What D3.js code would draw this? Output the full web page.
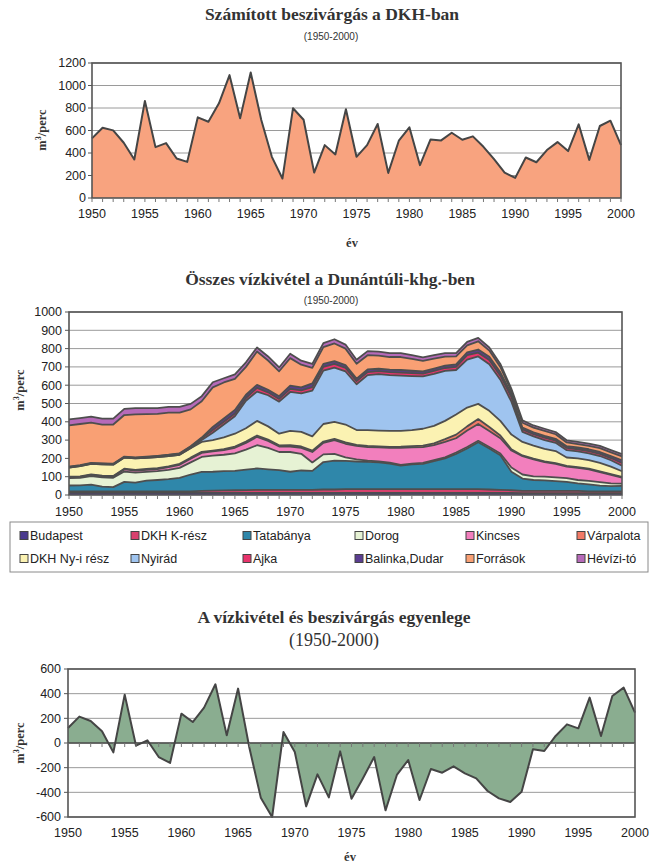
<!DOCTYPE html>
<html><head><meta charset="utf-8">
<script src="https://cdn.jsdelivr.net/npm/d3@7/dist/d3.min.js"></script>
<style>body{margin:0;background:#fff;} svg{display:block}</style>
</head><body>
<svg id="c" width="650" height="866"></svg>
<script>
// ---------- DATA ----------
const years = [1950,1951,1952,1953,1954,1955,1956,1957,1958,1959,1960,1961,1962,1963,1964,1965,1966,1967,1968,1969,1970,1971,1972,1973,1974,1975,1976,1977,1978,1979,1980,1981,1982,1983,1984,1985,1986,1987,1988,1989,1990,1991,1992,1993,1994,1995,1996,1997,1998,1999,2000];
const xTickLabels = [1950,1955,1960,1965,1970,1975,1980,1985,1990,1995,2000];
const yTicksInfil = [0,200,400,600,800,1000,1200];
const yTicksWithdraw = [0,100,200,300,400,500,600,700,800,900,1000];
const yTicksBalance = [-600,-400,-200,0,200,400,600];

// Chart 1: Számított beszivárgás (m3/perc)
const infiltration = [530,625,601,491,342,863,452,488,351,321,717,678,842,1092,708,1116,693,366,173,798,696,226,470,387,789,366,470,658,223,509,628,292,521,512,580,518,548,455,345,226,179,360,318,426,497,417,655,339,640,687,470];

// Chart 2: Összes vízkivétel – series (bottom to top)
const seriesNames = ["Budapest","DKH K-rész","Tatabánya","Dorog","Kincses","Várpalota","DKH Ny-i rész","Nyirád","Ajka","Balinka,Dudar","Források","Hévízi-tó"];
const seriesColors = ["#4a3a8e","#d8416e","#2f87aa","#e6f2d4","#f27fbd","#f27a66","#fbf2b2","#9fc4ef","#e8346c","#5b3d91","#f9a074","#b66ab9"];
const budapest = [12,12,12,12,12,12,12,12,12,12,12,12,12,12,12,12,12,12,12,12,12,12,12,12,12,12,12,12,12,12,12,12,12,12,12,12,12,12,12,12,12,10,10,10,10,10,10,10,10,10,10];
const dkhK = [8,8,8,8,8,8,8,8,8,8,8,8,10,12,13,14,15,16,16,16,16,16,16,18,18,20,20,20,20,20,20,20,20,20,20,20,20,20,18,16,14,12,12,12,12,12,12,10,10,10,10];
const tatabanya = [32,33,37,26,23,52,48,58,62,67,74,92,104,103,105,106,112,117,112,108,99,106,104,150,158,154,151,149,146,140,128,135,138,153,168,193,222,256,224,189,101,68,60,58,54,50,41,38,31,28,30];
const dorog = [40,41,46,50,51,56,54,48,48,50,54,66,82,88,90,96,109,127,118,99,108,91,46,42,37,20,12,7,5,5,4,4,5,5,6,7,8,8,8,10,23,22,20,20,20,20,19,19,19,16,12];
const kincses = [5,5,7,7,7,12,11,11,12,15,17,20,22,23,25,30,37,46,38,30,30,33,57,63,75,74,73,74,77,81,94,89,87,82,84,78,90,92,88,83,93,100,93,80,74,63,66,63,55,46,33];
const varpalota = [3,3,3,3,3,4,4,5,5,5,5,6,6,5,5,6,7,7,7,6,7,7,7,7,7,7,6,6,5,5,6,7,8,10,15,20,23,27,22,15,7,4,4,4,4,4,4,4,4,4,4];
const dkhNy = [50,56,57,62,62,61,63,61,60,55,50,51,54,57,65,71,73,80,72,64,78,80,78,96,93,98,81,87,87,87,86,88,92,96,100,110,103,83,88,80,80,74,71,68,66,46,48,46,46,41,31];
const nyirad = [0,0,0,0,0,0,0,0,0,0,0,2,10,40,70,95,150,160,170,175,213,210,250,292,296,290,250,300,308,305,302,295,286,284,273,243,262,259,255,225,180,55,50,48,45,40,38,38,38,35,30];
const ajka = [3,3,3,3,3,3,3,4,5,6,6,7,10,15,15,15,15,20,16,15,17,17,20,20,20,20,17,17,17,17,17,16,15,16,16,17,24,21,23,22,25,13,12,13,12,12,12,12,12,12,15];
const balinka = [2,2,2,2,2,2,2,2,2,2,2,3,4,17,18,20,18,17,14,15,18,16,20,16,16,15,14,14,13,13,14,13,13,13,13,14,16,17,18,18,17,10,10,10,10,10,10,10,10,10,15];
const forrasok = [225,225,220,212,214,227,236,233,229,230,222,201,198,216,197,170,152,182,160,136,150,124,85,92,96,90,81,78,72,69,71,65,57,54,49,43,38,45,33,30,15,27,26,27,25,20,18,19,21,21,21];
const heviz = [33,32,33,32,32,34,34,33,32,32,32,30,28,28,23,24,25,22,22,21,24,22,21,22,23,22,22,22,21,21,21,20,19,19,19,18,19,19,17,16,13,13,12,12,12,12,12,12,12,12,12];

// Chart 3: A vízkivétel és beszivárgás egyenlege
const balance = [122,214,178,95,-76,392,-22,22,-114,-162,238,170,287,476,62,441,-41,-443,-600,89,-73,-514,-254,-441,-68,-452,-287,-114,-546,-259,-138,-462,-211,-241,-189,-246,-287,-389,-449,-478,-395,-51,-65,57,151,119,368,57,381,449,246];

// ---------- DRAW ----------
const svg = d3.select("#c");
const SERIF = "'Liberation Serif','Times New Roman',serif";
const SANS = "'Liberation Sans',Arial,sans-serif";
const LINE = "#454545", GRID = "#9a9a9a", BORDER = "#555";

function frame(x0, x1, y0, y1, yScale, ticks, xScale, zeroY) {
  const g = svg.append("g");
  // gridlines
  g.selectAll(".grid").data(ticks).join("line")
    .attr("x1", x0).attr("x2", x1)
    .attr("y1", d => yScale(d)).attr("y2", d => yScale(d))
    .attr("stroke", GRID).attr("stroke-width", 1);
  return g;
}
function axes(x0, x1, y0, y1, yScale, ticks, xScale, tickBaseY, labelY, yLabelRight) {
  const g = svg.append("g");
  g.append("rect").attr("x", x0).attr("y", y0).attr("width", x1 - x0).attr("height", y1 - y0)
    .attr("fill", "none").attr("stroke", BORDER).attr("stroke-width", 1.6);
  // y ticks + labels
  g.selectAll(".yt").data(ticks).join("line")
    .attr("x1", x0 - 4).attr("x2", x0).attr("y1", d => yScale(d)).attr("y2", d => yScale(d))
    .attr("stroke", BORDER).attr("stroke-width", 1);
  g.selectAll(".yl").data(ticks).join("text")
    .attr("x", yLabelRight).attr("y", d => yScale(d)).attr("dy", "0.35em")
    .attr("text-anchor", "end").attr("font-family", SANS).attr("font-size", 12.5).attr("fill", "#222")
    .text(d => d);
  // x ticks (each year)
  g.selectAll(".xt").data(years).join("line")
    .attr("x1", d => xScale(d)).attr("x2", d => xScale(d))
    .attr("y1", tickBaseY).attr("y2", tickBaseY + 4)
    .attr("stroke", "#777").attr("stroke-width", 1);
  g.selectAll(".xl").data(xTickLabels).join("text")
    .attr("x", d => xScale(d)).attr("y", labelY).attr("dy", "0.35em")
    .attr("text-anchor", "middle").attr("font-family", SANS).attr("font-size", 12.5).attr("fill", "#222")
    .text(d => d);
}
function yTitle(x, y) {
  const t = svg.append("text").attr("transform", `translate(${x},${y}) rotate(-90)`)
    .attr("text-anchor", "middle").attr("font-family", SERIF).attr("font-weight", "bold")
    .attr("font-size", 12.5).attr("fill", "#333");
  t.append("tspan").text("m");
  t.append("tspan").attr("dy", -5).attr("font-size", 8).text("3");
  t.append("tspan").attr("dy", 5).text("/perc");
}
function title(text, x, y, size, bold, family) {
  svg.append("text").attr("x", x).attr("y", y).attr("text-anchor", "middle")
    .attr("font-family", family).attr("font-weight", bold ? "bold" : "normal")
    .attr("font-size", size).attr("fill", "#333").text(text);
}

// ===== Chart 1 =====
{
  const x0 = 92, x1 = 621, y0 = 63, y1 = 198;
  const x = d3.scaleLinear().domain([1950, 2000]).range([x0, x1]);
  const y = d3.scaleLinear().domain([0, 1200]).range([y1, y0]);
  title("Számított beszivárgás a DKH-ban", 332, 20, 17.5, true, SERIF);
  title("(1950-2000)", 331, 40, 10, false, SANS);
  frame(x0, x1, y0, y1, y, yTicksInfil.slice(1), x);
  const area = d3.area().x((d, i) => x(years[i])).y0(y(0)).y1(d => y(d));
  svg.append("path").datum(infiltration).attr("d", area).attr("fill", "#f8a37f");
  svg.append("path").datum(infiltration)
    .attr("d", d3.line().x((d, i) => x(years[i])).y(d => y(d)))
    .attr("fill", "none").attr("stroke", LINE).attr("stroke-width", 2).attr("stroke-linejoin", "round");
  axes(x0, x1, y0, y1, y, yTicksInfil, x, y1, 214, 86);
  yTitle(46, 130);
  title("év", 352, 247, 12.5, true, SERIF);
}

// ===== Chart 2 =====
{
  const x0 = 69, x1 = 622, y0 = 312, y1 = 495;
  const x = d3.scaleLinear().domain([1950, 2000]).range([x0, x1]);
  const y = d3.scaleLinear().domain([0, 1000]).range([y1, y0]);
  title("Összes vízkivétel a Dunántúli-khg.-ben", 330, 285, 17.5, true, SERIF);
  title("(1950-2000)", 331, 304, 10, false, SANS);
  frame(x0, x1, y0, y1, y, yTicksWithdraw.slice(1), x);
  const seriesArrays = [budapest, dkhK, tatabanya, dorog, kincses, varpalota, dkhNy, nyirad, ajka, balinka, forrasok, heviz];
  const table = years.map((yr, i) => {
    const o = { year: yr };
    seriesNames.forEach((n, k) => o[n] = seriesArrays[k][i]);
    return o;
  });
  const stacked = d3.stack().keys(seriesNames)(table);
  const area = d3.area().x(d => x(d.data.year)).y0(d => y(d[0])).y1(d => y(d[1]));
  svg.append("g").selectAll("path").data(stacked).join("path")
    .attr("d", area).attr("fill", (d, i) => seriesColors[i]);
  svg.append("g").selectAll("path").data(stacked).join("path")
    .attr("d", d3.line().x(d => x(d.data.year)).y(d => y(d[1])))
    .attr("fill", "none").attr("stroke", "#4e4e4e").attr("stroke-width", 1.8).attr("stroke-linejoin", "round");
  axes(x0, x1, y0, y1, y, yTicksWithdraw, x, y1, 512, 62);
  yTitle(24, 390);

  // legend
  const lg = svg.append("g");
  lg.append("rect").attr("x", 10).attr("y", 522).attr("width", 638).attr("height", 50)
    .attr("fill", "#fff").attr("stroke", "#8a8a8a").attr("stroke-width", 1);
  const colX = [20, 131, 243, 355, 466, 577];
  seriesNames.forEach((n, i) => {
    const cx = colX[i % 6], cy = i < 6 ? 536 : 559;
    lg.append("rect").attr("x", cx).attr("y", cy - 4.5).attr("width", 8).attr("height", 8)
      .attr("fill", seriesColors[i]).attr("stroke", "#444").attr("stroke-width", 1);
    lg.append("text").attr("x", cx + 10).attr("y", cy).attr("dy", "0.35em")
      .attr("font-family", SANS).attr("font-size", 12.5).attr("fill", "#222").text(n);
  });
}

// ===== Chart 3 =====
{
  const x0 = 68, x1 = 635, y0 = 669, y1 = 817;
  const x = d3.scaleLinear().domain([1950, 2000]).range([x0, x1]);
  const y = d3.scaleLinear().domain([-600, 600]).range([y1, y0]);
  title("A vízkivétel és beszivárgás egyenlege", 334, 623, 17.5, true, SERIF);
  title("(1950-2000)", 334, 646, 18, false, SERIF);
  frame(x0, x1, y0, y1, y, yTicksBalance, x);
  const area = d3.area().x((d, i) => x(years[i])).y0(y(0)).y1(d => y(d));
  svg.append("path").datum(balance).attr("d", area).attr("fill", "#8aad90");
  svg.append("line").attr("x1", x0).attr("x2", x1).attr("y1", y(0)).attr("y2", y(0))
    .attr("stroke", "#4a4a4a").attr("stroke-width", 1.6);
  svg.append("path").datum(balance)
    .attr("d", d3.line().x((d, i) => x(years[i])).y(d => y(d)))
    .attr("fill", "none").attr("stroke", LINE).attr("stroke-width", 2).attr("stroke-linejoin", "round");
  axes(x0, x1, y0, y1, y, yTicksBalance, x, y(0), 833, 61);
  yTitle(24, 743);
  title("év", 350, 861, 12.5, true, SERIF);
}
</script>
</body></html>
